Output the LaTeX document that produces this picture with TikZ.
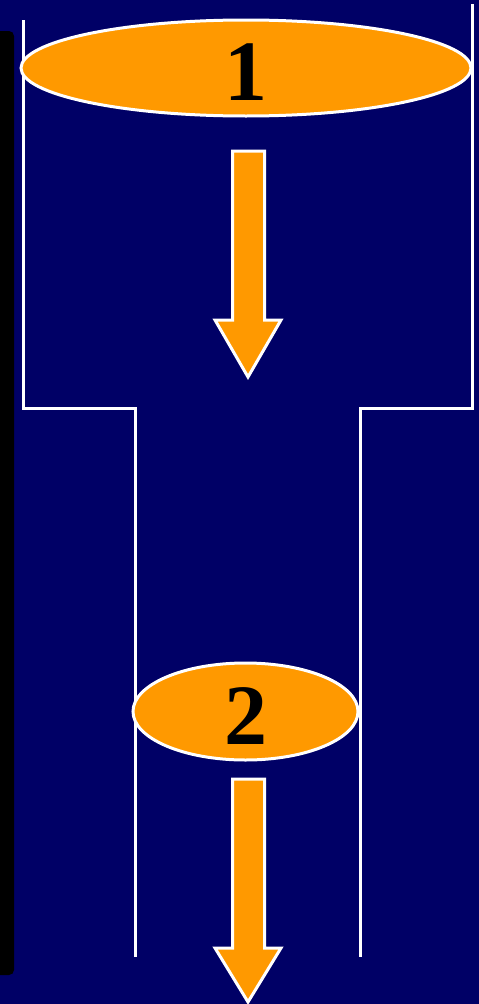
\documentclass[tikz,border=0pt]{standalone}
\usepackage{fontspec}
\setmainfont{Liberation Serif}
\usetikzlibrary{shapes.geometric}
\definecolor{navy}{RGB}{0,0,102}
\definecolor{orng}{RGB}{255,153,0}
\tikzset{
  wall/.style={draw=white,line width=3.5pt},
  disc/.style={ellipse,draw=white,fill=orng,line width=3pt,inner sep=0pt},
  digit/.style={font=\fontsize{86}{86}\selectfont\bfseries,text=black,anchor=base,inner sep=0pt},
  flowarrow/.style={draw=white,fill=orng,line width=3pt,line join=miter}
}
\begin{document}
\begin{tikzpicture}[x=1pt,y=-1pt]
\useasboundingbox (0,0) rectangle (479,1004);
\fill[navy] (0,0) rectangle (479,1004);
% black bar at left
\fill[black,rounded corners=5pt] (-12,31) rectangle (14,975);
% pipe walls
\draw[wall] (23.5,20) -- (23.5,408.5) -- (135.5,408.5) -- (135.5,957);
\draw[wall] (472.5,4) -- (472.5,408.5) -- (360.5,408.5) -- (360.5,957);
% ellipses
\node[disc,minimum width=450pt,minimum height=96pt] (e1) at (246,68) {};
\node[digit] (t1) at (246,100) {1};
\node[disc,minimum width=225pt,minimum height=97pt] (e2) at (245.5,711.5) {};
\node[digit] (t2) at (246,744) {2};
% arrows
\draw[flowarrow] (232.5,151) -- (264.5,151) -- (264.5,320) -- (281,320) -- (248,377) -- (215,320) -- (232.5,320) -- cycle;
\draw[flowarrow] (232.5,779) -- (264.5,779) -- (264.5,948) -- (281,948) -- (248,1002) -- (215,948) -- (232.5,948) -- cycle;
\end{tikzpicture}
\end{document}
